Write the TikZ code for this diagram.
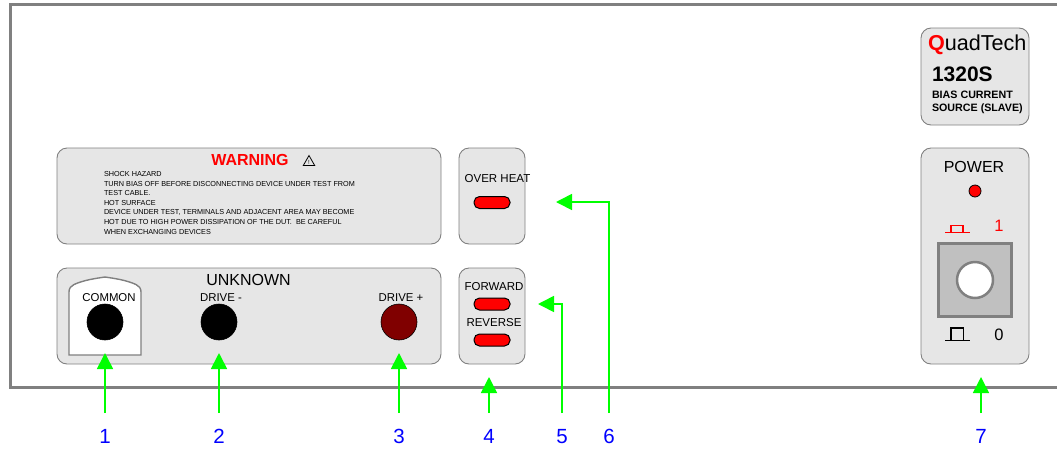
\documentclass[tikz,border=0pt]{standalone}
\usepackage{fontspec}
\setmainfont{Liberation Sans}
\usetikzlibrary{arrows.meta}
\definecolor{panelgray}{HTML}{E6E6E6}
\definecolor{edgegray}{HTML}{808080}
\definecolor{keygray}{HTML}{C0C0C0}
\definecolor{jackred}{HTML}{800000}
\definecolor{callgreen}{HTML}{00FF00}
\newcommand{\fs}[1]{\fontsize{#1}{#1}\selectfont}
\tikzset{
  panel/.style={draw=edgegray,fill=panelgray,line width=0.9pt,rounded corners=10pt,minimum width=#1,inner sep=0pt,outer sep=0pt},
  txt/.style={inner sep=0pt,outer sep=0pt,anchor=base},
  txtl/.style={inner sep=0pt,outer sep=0pt,anchor=base west},
  jack/.style={circle,draw=black,line width=0.6pt,minimum size=36pt,inner sep=0pt,outer sep=0pt},
  led/.style={draw=black,fill=red,line width=1pt,rounded corners=5.5pt,minimum width=36pt,minimum height=12pt,inner sep=0pt},
  callout/.style={draw=callgreen,line width=1.7pt,-{Triangle[length=16pt,width=16pt]}},
  numlabel/.style={text=blue,font=\fs{20.5},inner sep=0pt,outer sep=0pt,text height=14.6pt,text depth=0pt,minimum height=46pt},
  warn/.style={txtl,font=\fs{7.26},text=black}
}
\begin{document}
\begin{tikzpicture}[x=1pt,y=-1pt]
\useasboundingbox (0,0) rectangle (1057,448);
% housing
\draw[draw=edgegray,line width=3pt] (1057,4) -- (10,4) -- (10,387) -- (1057,387);
% panels
\node[panel=384pt,minimum height=96pt] (warning) at (249,196) {};
\node[panel=384pt,minimum height=96pt] (unknown) at (249,316) {};
\node[panel=66pt,minimum height=96pt] (overheat) at (492,196) {};
\node[panel=66pt,minimum height=96pt] (direction) at (492,316) {};
\node[panel=108pt,minimum height=97pt] (brand) at (975,76.5) {};
\node[panel=108pt,minimum height=216pt] (power) at (975,256) {};
% warning text
\node[txt,font=\bfseries\fs{16},text=red] (wtitle) at (250,165.5) {WARNING};
\draw[line width=0.8pt,line join=miter] (303.3,165.5) -- (309,155.5) -- (314.7,165.5) -- cycle;
\node[inner sep=0pt,font=\fs{6}] (wbang) at (309,162) {!};
\node[warn] (w1) at (104,176) {SHOCK HAZARD};
\node[warn] (w2) at (104,186) {TURN BIAS OFF BEFORE DISCONNECTING DEVICE UNDER TEST FROM};
\node[warn] (w3) at (104,195) {TEST CABLE.};
\node[warn] (w4) at (104,205) {HOT SURFACE};
\node[warn] (w5) at (104,214) {DEVICE UNDER TEST, TERMINALS AND ADJACENT AREA MAY BECOME};
\node[warn] (w6) at (104,224) {HOT DUE TO HIGH POWER DISSIPATION OF THE DUT.\ \ BE CAREFUL};
\node[warn] (w7) at (104,234) {WHEN EXCHANGING DEVICES};
% unknown panel
\draw[draw=edgegray,fill=white,line width=1.4pt] (69,355) -- (69,292)
  .. controls (69,288) and (71,286) .. (74,284.5)
  .. controls (84,280) and (95,278.5) .. (105,277)
  .. controls (115,278.5) and (126,280) .. (136,284.5)
  .. controls (139,286) and (141,288) .. (141,292) -- (141,355) -- cycle;
\node[txt,font=\fs{16}] (unk) at (248.5,285.7) {UNKNOWN};
\node[txt,font=\fs{11.4}] (common) at (109,301) {COMMON};
\node[txt,font=\fs{11.4}] (dminus) at (221,301) {DRIVE -};
\node[txt,font=\fs{11.4}] (dplus) at (401,301) {DRIVE +};
\node[jack,fill=black] (j1) at (105,322) {};
\node[jack,fill=black] (j2) at (219,322) {};
\node[jack,fill=jackred] (j3) at (399,322) {};
% indicators
\node[txt,font=\fs{11.5}] (oh) at (497.5,182) {OVER HEAT};
\node[led] (led6) at (492,202.5) {};
\node[txt,font=\fs{11.5}] (fw) at (494,290) {FORWARD};
\node[led] (led5) at (492,304) {};
\node[txt,font=\fs{11.5}] (rv) at (494,326) {REVERSE};
\node[led] (led4) at (492,340) {};
% brand
\node[txtl,font=\fs{21.6}] (qt) at (928,50.7) {\textcolor{red}{\bfseries Q}uadTech};
\node[txtl,font=\bfseries\fs{21}] (model) at (932,81.5) {1320S};
\node[txtl,font=\bfseries\fs{10.7}] (b1) at (932,98) {BIAS CURRENT};
\node[txtl,font=\bfseries\fs{10.7}] (b2) at (932,111) {SOURCE (SLAVE)};
% power
\node[txt,font=\fs{16}] (pw) at (974,172) {POWER};
\node[circle,draw=black,fill=red,line width=0.8pt,minimum size=12pt,inner sep=0pt] (pled) at (975,191) {};
\draw[red,line width=1.2pt] (945,232.7) -- (970,232.7);
\draw[red,line width=1.2pt] (951,232.7) -- (951,225.5) -- (963,225.5) -- (963,232.7);
\node[txt,font=\fs{16.5},text=red] (on) at (999,231.7) {1};
\node[draw=edgegray,fill=keygray,line width=2.5pt,minimum size=73pt,inner sep=0pt] (key) at (975,280) {};
\node[circle,draw=edgegray,fill=white,line width=2.5pt,minimum size=36pt,inner sep=0pt] (knob) at (975,280) {};
\draw[black,line width=1.5pt] (945,340.7) -- (970,340.7);
\draw[black,line width=1.5pt] (951,340.7) -- (951,328) -- (963.5,328) -- (963.5,340.7);
\node[txt,font=\fs{16.5}] (off) at (999,340) {0};
% number labels
\node[numlabel] (n1) at (105,436) {1};
\node[numlabel] (n2) at (219,436) {2};
\node[numlabel] (n3) at (399,436) {3};
\node[numlabel] (n4) at (489,436) {4};
\node[numlabel] (n5) at (562,436) {5};
\node[numlabel] (n6) at (609,436) {6};
\node[numlabel] (n7) at (981,436) {7};
% callout tips
\coordinate (t1) at (105,353);
\coordinate (t2) at (219,353);
\coordinate (t3) at (399,353);
\coordinate (t4) at (489,377);
\coordinate (t5) at (538,304);
\coordinate (t6) at (556,202);
\coordinate (t7) at (981,377);
% callouts
\draw[callout] (n1.north) -- (t1);
\draw[callout] (n2.north) -- (t2);
\draw[callout] (n3.north) -- (t3);
\draw[callout] (n4.north) -- (t4);
\draw[callout] (n5.north) |- (t5);
\draw[callout] (n6.north) |- (t6);
\draw[callout] (n7.north) -- (t7);
\end{tikzpicture}
\end{document}
